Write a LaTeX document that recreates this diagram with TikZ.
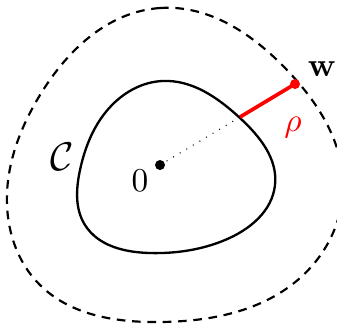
\documentclass[tikz,border=0pt]{standalone}
\usetikzlibrary{calc,hobby}
\begin{document}
\begin{tikzpicture}[x=0.3pt,y=-0.3pt,
  curvestyle/.style={line width=0.7pt},
  outerstyle/.style={line width=0.65pt,dash pattern=on 2.6pt off 2pt},
  lbl/.style={inner sep=0pt}]
\useasboundingbox (0,0) rectangle (337,326);
\begin{scope}
\clip (0,0) rectangle (337,326);
% outer dashed curve
\draw[outerstyle,closed hobby] plot coordinates {
 (160,8) (287,70) (343,185) (300,278) (160,322) (40,285) (7,205) (40,95)};
\end{scope}
% inner curve C
\draw[curvestyle,closed hobby] plot coordinates {
 (162,81) (240,118) (275,185) (225,240) (150,253) (85,225) (80,170) (112,105)};
\coordinate (o) at (160,165);
\coordinate (w) at (295,84);
\coordinate (p) at ($(o)!0.5926!(w)$);
\draw[dotted,line width=0.3pt] (o) -- (p);
\draw[red,line width=1.1pt] (p) -- (w);
\fill (o) circle[radius=1.5pt];
\fill[red] (w) circle[radius=1.5pt];
\node[lbl] (zero) at (140,181) {$0$};
\node[lbl] (wl) at (322,69) {$\mathbf{w}$};
\node[lbl,text=red] (rho) at (293,128) {$\rho$};
\node[lbl] (cl) at (62,157) {\large$\mathcal{C}$};
\end{tikzpicture}
\end{document}
